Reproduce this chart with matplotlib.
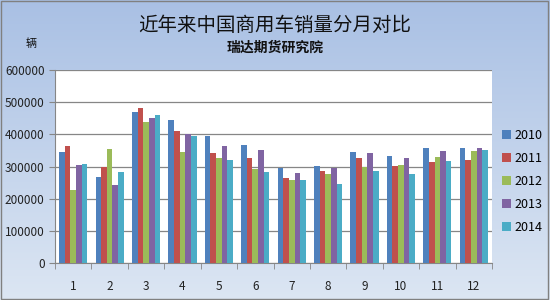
import numpy as np
import matplotlib.pyplot as plt
from matplotlib.colors import LinearSegmentedColormap

plt.rcParams['font.family'] = ['Noto Sans CJK SC', 'DejaVu Sans']

months = ['1', '2', '3', '4', '5', '6', '7', '8', '9', '10', '11', '12']
years = ['2010', '2011', '2012', '2013', '2014']

s2010 = [346000, 267000, 469000, 444000, 395000, 368000, 295000, 303000, 344000, 334000, 356000, 359000]
s2011 = [364000, 299000, 482000, 410000, 341000, 325000, 264000, 286000, 325000, 303000, 313000, 320000]
s2012 = [226000, 353000, 438000, 345000, 325000, 291000, 258000, 276000, 300000, 306000, 328000, 347000]
s2013 = [306000, 242000, 451000, 400000, 364000, 350000, 279000, 295000, 341000, 325000, 347000, 356000]
s2014 = [309000, 282000, 460000, 395000, 319000, 282000, 258000, 245000, 286000, 276000, 317000, 350000]

series = [s2010, s2011, s2012, s2013, s2014]
colors = ['#4F81BD', '#C0504D', '#9BBB59', '#8064A2', '#4BACC6']

fig = plt.figure(figsize=(5.5, 3), dpi=100)

# background gradient
bg = fig.add_axes([0, 0, 1, 1], zorder=-1)
grad = np.linspace(0, 1, 256).reshape(-1, 1)
cmap = LinearSegmentedColormap.from_list('bg', ['#A9C0E4', '#DCE6F3'])
bg.imshow(grad, aspect='auto', cmap=cmap, extent=[0, 1, 0, 1])
bg.set_xlim(0, 1)
bg.set_ylim(0, 1)
bg.axis('off')
bg.add_patch(plt.Rectangle((0.002, 0.003), 0.995, 0.993, fill=False, edgecolor='#808080', lw=1))

ax = fig.add_axes([55 / 550, 1 - 263 / 300, (492 - 55) / 550, (263 - 70) / 300])
ax.set_facecolor('white')

x = np.arange(len(months))
w = 0.155
for i, (vals, yr) in enumerate(zip(series, years)):
    ax.bar(x + (i - 2) * w, vals, width=w, color=colors[i], label=yr, zorder=3)

ax.set_xlim(-0.5, 11.5)
ax.set_ylim(0, 600000)
ax.set_yticks(np.arange(0, 600001, 100000))
ax.yaxis.grid(True, color='#868686', lw=0.9, zorder=0)
ax.set_xticks(x)
ax.set_xticklabels(months)
ax.set_xticks(np.arange(-0.5, 12, 1), minor=True)
ax.tick_params(axis='x', which='major', length=0, labelsize=8.5, pad=12, colors='#222222')
ax.tick_params(axis='x', which='minor', length=4, color='#868686')
ax.tick_params(axis='y', length=4, color='#868686', labelsize=8.5, labelcolor='#222222')
for s in ['top', 'right']:
    ax.spines[s].set_visible(False)
ax.spines['left'].set_color('#868686')
ax.spines['bottom'].set_color('#868686')

leg = fig.legend(loc='upper left', bbox_to_anchor=(497 / 550, 1 - 124 / 300), frameon=False,
                 fontsize=9, handlelength=0.7, handleheight=0.7, handletextpad=0.3,
                 labelspacing=0.8, borderaxespad=0)

fig.text(0.5, 1 - 25 / 300, '近年来中国商用车销量分月对比', ha='center', va='center', fontsize=14, color='#111111')
fig.text(0.5, 1 - 48 / 300, '瑞达期货研究院', ha='center', va='center', fontsize=10, fontweight='bold', color='#111111')
fig.text(31 / 550, 1 - 44 / 300, '辆', ha='center', va='center', fontsize=8, color='#111111')

fig.savefig('out.png', dpi=100)
